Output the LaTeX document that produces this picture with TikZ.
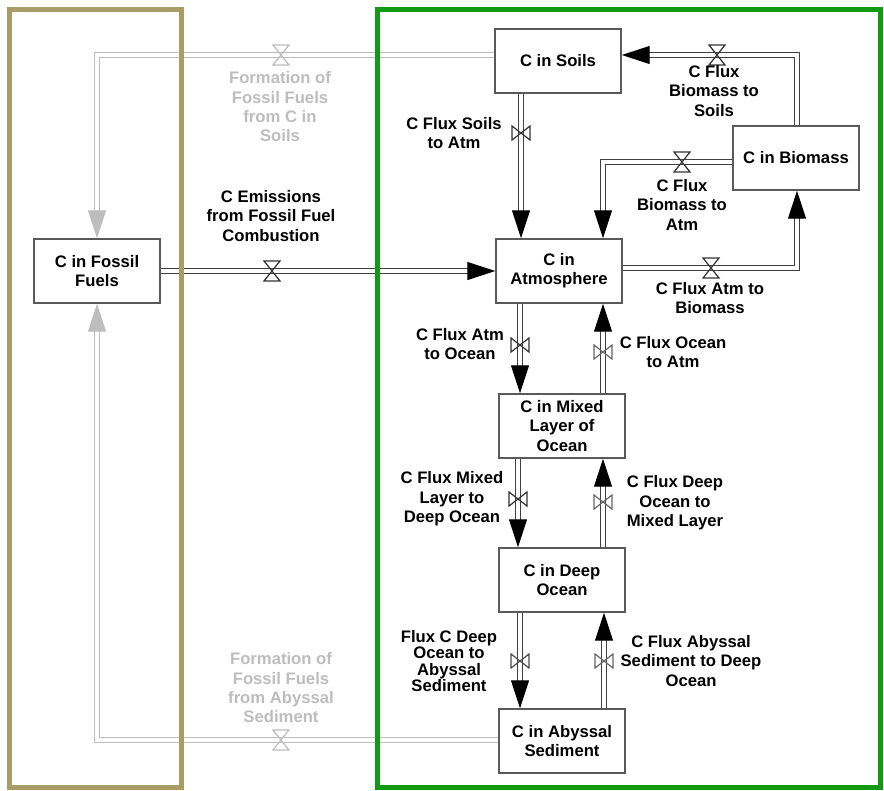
\documentclass[tikz,border=0pt]{standalone}
\usepackage{fontspec}
\setmainfont{Liberation Sans}
\usetikzlibrary{arrows.meta,calc}

\definecolor{fossiltan}{HTML}{A99C66}
\definecolor{framegreen}{HTML}{129A12}
\definecolor{fadegray}{HTML}{BDBDBD}

\tikzset{
  stock/.style={draw=black!65, line width=1.1pt, fill=white, minimum width=94.5pt,
    minimum height=48pt, align=center, inner sep=1pt,
    font=\bfseries\fontsize{12.5}{14.5}\selectfont},
  pipe/.style={draw=black!75, line width=0.75pt, double=white, double distance=3.4pt},
  fadepipe/.style={pipe, draw=fadegray},
  flowtip/.style={-{Triangle[length=21pt,width=13.5pt,black]}},
  fadetip/.style={-{Triangle[length=21pt,width=13.5pt,fadegray]}},
  lbl/.style={align=center, inner sep=0pt, font=\bfseries\fontsize{12.5}{14.5}\selectfont},
  fadelbl/.style={lbl, text=fadegray},
  valve/.pic={\draw[line width=0.9pt, pic actions] (-8,-10) -- (8,-10) -- (-8,10) -- (8,10) -- cycle;},
  vvalve/.pic={\draw[line width=0.9pt, pic actions] (-9,-7) -- (-9,7) -- (9,-7) -- (9,7) -- cycle;}
}

\begin{document}
\begin{tikzpicture}[x=0.75pt,y=0.75pt,yscale=-1,xscale=1]
\useasboundingbox (0,0) rectangle (884,790);

%Stocks
\node[stock] (fossil) at (97,271) {C in Fossil\\Fuels};
\node[stock] (soils) at (558,61) {C in Soils};
\node[stock] (biomass) at (796,158) {C in Biomass};
\node[stock] (atm) at (559,271) {C in\\Atmosphere};
\node[stock] (mixed) at (562,426) {C in Mixed\\Layer of\\Ocean};
\node[stock] (deep) at (562,580) {C in Deep\\Ocean};
\node[stock] (abyss) at (562,741) {C in Abyssal\\Sediment};

%Grey flows to fossil fuels
\draw[fadepipe, fadetip] ($(soils.west)+(0,-6)$) -| (fossil.north);
\pic[draw=fadegray] at (281,55) {valve};
\draw[fadepipe, fadetip] ($(abyss.west)+(0,-1)$) -| (fossil.south);
\pic[draw=fadegray] at (281,740) {valve};

%Emissions
\draw[pipe, flowtip] (fossil.east) -- (atm.west);
\pic[draw=black!80] at (272,271) {valve};

%Land flows
\draw[pipe, flowtip] ($(soils.south)+(-37,0)$) -- ($(atm.north)+(-38,0)$);
\pic[draw=black!80] at (521,133) {vvalve};
\draw[pipe, flowtip] ($(biomass.north)+(1,0)$) |- ($(soils.east)+(0,-6)$);
\pic[draw=black!80] at (717,55) {valve};
\draw[pipe, flowtip] ($(biomass.west)+(0,4)$) -| ($(atm.north)+(44,0)$);
\pic[draw=black!80] at (682,162) {valve};
\draw[pipe, flowtip] ($(atm.east)+(0,-3)$) -| ($(biomass.south)+(1,0)$);
\pic[draw=black!80] at (711,268) {valve};

%Ocean flows
\draw[pipe, flowtip] ($(atm.south)+(-39,0)$) -- ($(mixed.north)+(-42,0)$);
\pic[draw=black!80] at (520,345) {vvalve};
\draw[pipe, flowtip] ($(mixed.north)+(41,0)$) -- ($(atm.south)+(44,0)$);
\pic[draw=black!60] at (603,352) {vvalve};
\draw[pipe, flowtip] ($(mixed.south)+(-44,0)$) -- ($(deep.north)+(-44,0)$);
\pic[draw=black!80] at (518,499) {vvalve};
\draw[pipe, flowtip] ($(deep.north)+(41,0)$) -- ($(mixed.south)+(41,0)$);
\pic[draw=black!60] at (603,502) {vvalve};
\draw[pipe, flowtip] ($(deep.south)+(-42,0)$) -- ($(abyss.north)+(-42,0)$);
\pic[draw=black!70] at (520,661) {vvalve};
\draw[pipe, flowtip] ($(abyss.north)+(42,0)$) -- ($(deep.south)+(42,0)$);
\pic[draw=black!60] at (604,661) {vvalve};

% Text Node
\node[fadelbl] (lsoilsfossil) at (280,107) {Formation of\\Fossil Fuels\\from C in\\Soils};
\node[fadelbl] (labyssfossil) at (281,688) {Formation of\\Fossil Fuels\\from Abyssal\\Sediment};
\node[lbl] (lemis) at (271,216) {C Emissions\\from Fossil Fuel\\Combustion};
\node[lbl] (lsoilsatm) at (454,133) {C Flux Soils\\to Atm};
\node[lbl] (lbiosoils) at (714,91) {C Flux\\Biomass to\\Soils};
\node[lbl] (lbioatm) at (682,205) {C Flux\\Biomass to\\Atm};
\node[lbl] (latmbio) at (710,298) {C Flux Atm to\\Biomass};
\node[lbl] (latmocean) at (460,344) {C Flux Atm\\to Ocean};
\node[lbl] (loceanatm) at (673,352) {C Flux Ocean\\to Atm};
\node[lbl] (lmixeddeep) at (452,499) {C Flux Mixed\\Layer to\\Deep Ocean};
\node[lbl] (ldeepmixed) at (675,503) {C Flux Deep\\Ocean to\\Mixed Layer};
\node[lbl, font=\bfseries\fontsize{12.5}{12.4}\selectfont] (ldeepabyss) at (449,661) {Flux C Deep\\Ocean to\\Abyssal\\Sediment};
\node[lbl] (labyssdeep) at (691,661) {C Flux Abyssal\\Sediment to Deep\\Ocean};

%Frames
\draw[fossiltan, line width=3.75pt] (9.5,9.5) rectangle (181,787);
\draw[framegreen, line width=3.75pt] (377,9.5) rectangle (880.5,787.5);
\end{tikzpicture}
\end{document}
